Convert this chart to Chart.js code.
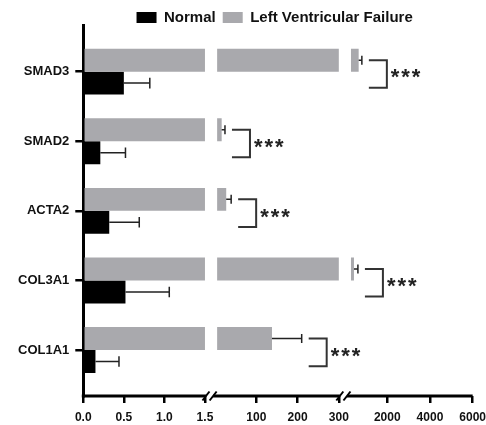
<!DOCTYPE html>
<html>
<head>
<meta charset="utf-8">
<script src="https://cdn.jsdelivr.net/npm/chart.js@4.4.0/dist/chart.umd.min.js"></script>
<style>
  body { margin: 0; background: #fff; }
  #wrap { width: 486px; height: 425px; }
</style>
</head>
<body>
<div id="wrap"><canvas id="myChart"></canvas></div>
<script>
const categories = ['SMAD3', 'SMAD2', 'ACTA2', 'COL3A1', 'COL1A1'];
const normalMean = [0.50, 0.21, 0.32, 0.52, 0.15];
const normalErr = [0.32, 0.31, 0.37, 0.54, 0.29];
const lvfMean = [660, 16, 27, 440, 138];
const lvfErr = [150, 8, 12, 185, 72];

// broken x axis, three pieces
const segMin = [0, 5, 300];
const segMax = [1.5, 300, 6000];
const xTickValues = [0, 0.5, 1, 1.5, 100, 200, 300, 2000, 4000, 6000];
const xTickSegment = [0, 0, 0, 0, 1, 1, 1, 2, 2, 2];
const xTickLabels = ['0.0', '0.5', '1.0', '1.5', '100', '200', '300', '2000', '4000', '6000'];
const sigLabel = '***';

const GAP = 0.1;
const FONT = "'Liberation Sans', Arial, sans-serif";
const grey = '#a9a9ad';

function toAxis(seg, v) {
    return seg * (1 + GAP) + (v - segMin[seg]) / (segMax[seg] - segMin[seg]);
}
function valueToAxis(v) {
    for (let s = 0; s < segMin.length; s++) {
        if (v <= segMax[s]) return toAxis(s, Math.max(v, segMin[s]));
    }
    return toAxis(segMin.length - 1, segMax[segMin.length - 1]);
}
function segBars(seg, values) {
    let out = [];
    values.forEach((v, i) => {
        if (v > segMin[seg]) {
            out.push({ x: [toAxis(seg, segMin[seg]), toAxis(seg, Math.min(v, segMax[seg]))], y: i });
        }
    });
    return out;
}

function errBar(ctx, x0, x1, y, cap) {
    ctx.beginPath();
    ctx.moveTo(x0, y);
    ctx.lineTo(x1, y);
    ctx.moveTo(x1, y - cap / 2);
    ctx.lineTo(x1, y + cap / 2);
    ctx.stroke();
}

const annotate = {
    id: 'annotate',
    afterLayout(chart) {
        // centre the legend over the plot rather than the whole canvas
        chart.legend.left = chart.chartArea.left - 20;
    },
    afterDatasetsDraw(chart) {
        const { ctx, chartArea, scales: { x } } = chart;
        const greyMeta = chart.getDatasetMeta(0);
        const normMeta = chart.getDatasetMeta(1);
        ctx.save();

        // x axis line with break marks
        const yb = chartArea.bottom;
        ctx.strokeStyle = '#000';
        ctx.lineCap = 'butt';
        for (let s = 0; s < segMin.length; s++) {
            const a = x.getPixelForValue(s * (1 + GAP));
            const b = x.getPixelForValue(s * (1 + GAP) + 1);
            const start = s > 0 ? a - 4 : a - 1.5;
            const end = s < segMin.length - 1 ? b + 1 : b;
            ctx.lineWidth = 3;
            ctx.beginPath();
            ctx.moveTo(start, yb);
            ctx.lineTo(end, yb);
            ctx.stroke();
            ctx.lineWidth = 2;
            ctx.beginPath();
            if (s > 0) { ctx.moveTo(start - 3.5, yb + 4.5); ctx.lineTo(start + 3.5, yb - 4.5); }
            if (s < segMin.length - 1) { ctx.moveTo(end - 3.5, yb + 4.5); ctx.lineTo(end + 3.5, yb - 4.5); }
            ctx.stroke();
        }

        categories.forEach((c, i) => {
            const g = greyMeta.data[i];
            const n = normMeta.data[i];
            const cap = n.height * 0.46;
            ctx.strokeStyle = '#222';
            ctx.lineWidth = 1.5;
            const nx0 = x.getPixelForValue(valueToAxis(normalMean[i]));
            const nx1 = x.getPixelForValue(valueToAxis(normalMean[i] + normalErr[i]));
            errBar(ctx, nx0, nx1, n.y, cap);
            const gx0 = x.getPixelForValue(valueToAxis(lvfMean[i]));
            const gx1 = x.getPixelForValue(valueToAxis(lvfMean[i] + lvfErr[i]));
            errBar(ctx, gx0, gx1, g.y, cap * 0.85);

            // significance bracket
            const bx = gx1 + 7, bw = 18;
            const top = g.y, bot = n.y + n.height * 0.2;
            ctx.strokeStyle = '#333';
            ctx.lineWidth = 2;
            ctx.beginPath();
            ctx.moveTo(bx, top);
            ctx.lineTo(bx + bw, top);
            ctx.lineTo(bx + bw, bot);
            ctx.lineTo(bx, bot);
            ctx.stroke();

            ctx.fillStyle = '#222';
            ctx.font = 'bold 22px ' + FONT;
            ctx.textAlign = 'left';
            ctx.textBaseline = 'alphabetic';
            const m = ctx.measureText('*');
            const mid = (top + bot) / 2 + (m.actualBoundingBoxAscent - m.actualBoundingBoxDescent) / 2;
            let sx = bx + bw + 4;
            for (const ch of sigLabel) {
                ctx.fillText(ch, sx, mid);
                sx += 10.5;
            }
        });
        ctx.restore();
    }
};

const ctx = document.getElementById('myChart').getContext('2d');
new Chart(ctx, {
    type: 'bar',
    data: {
        datasets: [
            { label: 'Left Ventricular Failure', data: segBars(0, lvfMean), backgroundColor: grey, stack: 'lvf' },
            { label: 'Normal', data: segBars(0, normalMean), backgroundColor: '#000', stack: 'normal' },
            { label: 'lvf-mid', data: segBars(1, lvfMean), backgroundColor: grey, stack: 'lvf' },
            { label: 'lvf-top', data: segBars(2, lvfMean), backgroundColor: grey, stack: 'lvf' }
        ]
    },
    options: {
        indexAxis: 'y',
        responsive: true,
        maintainAspectRatio: false,
        animation: false,
        layout: { padding: { top: 3, left: 12, right: 0, bottom: -8 } },
        datasets: {
            bar: { categoryPercentage: 0.66, barPercentage: 1.0, borderWidth: 0 }
        },
        plugins: {
            tooltip: { enabled: false },
            legend: {
                position: 'top',
                reverse: true,
                maxHeight: 22,
                labels: {
                    filter: item => item.datasetIndex < 2,
                    boxWidth: 20,
                    boxHeight: 11,
                    padding: 7,
                    color: '#111',
                    font: { family: FONT, size: 15, weight: 'bold' }
                }
            }
        },
        scales: {
            x: {
                type: 'linear',
                min: 0,
                max: segMin.length + (segMin.length - 1) * GAP,
                stacked: false,
                afterBuildTicks: scale => {
                    scale.ticks = xTickValues.map((v, i) => ({ value: toAxis(xTickSegment[i], v) }));
                },
                border: { display: false },
                grid: { drawOnChartArea: false, drawTicks: true, tickLength: 7, lineWidth: 2.5, color: '#000' },
                ticks: {
                    autoSkip: false,
                    maxRotation: 0,
                    padding: 0,
                    color: '#111',
                    font: { family: FONT, size: 12, weight: 'bold', lineHeight: 2.5 },
                    callback: (v, i) => xTickLabels[i]
                }
            },
            y: {
                type: 'linear',
                reverse: true,
                offset: false,
                min: -0.67,
                max: 4.66,
                afterBuildTicks: scale => {
                    scale.ticks = categories.map((c, i) => ({ value: i }));
                },
                border: { display: true, color: '#000', width: 3 },
                grid: { offset: false, drawOnChartArea: false, drawTicks: true, tickLength: 8, lineWidth: 2.5, color: '#000' },
                ticks: {
                    autoSkip: false,
                    padding: 6,
                    color: '#111',
                    font: { family: FONT, size: 13, weight: 'bold' },
                    callback: (v, i) => categories[i]
                }
            }
        }
    },
    plugins: [annotate]
});
</script>
</body>
</html>
